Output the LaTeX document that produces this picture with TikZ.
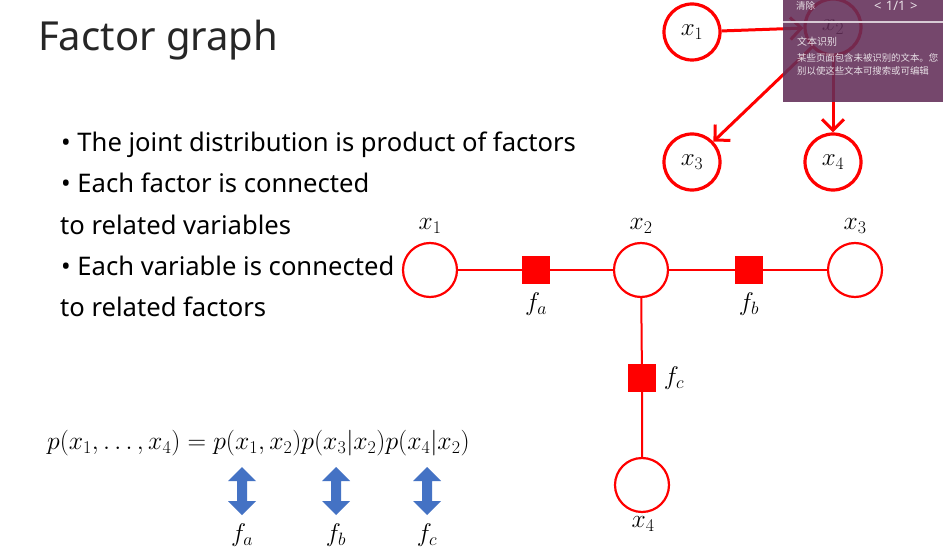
\RequirePackage{fix-cm}
\documentclass[tikz,border=0pt]{standalone}
\usepackage{fontspec}
\setmainfont{Noto Sans}
\newfontfamily\cjkfont{Noto Sans CJK SC}
\usetikzlibrary{arrows.meta}
\definecolor{ovl}{RGB}{98,46,88}
\definecolor{arrowblue}{RGB}{68,114,196}
\tikzset{
  var/.style={circle, draw=red, line width=2.2pt, minimum size=54pt, inner sep=0pt},
  fac/.style={rectangle, fill=red, minimum size=28pt, inner sep=0pt},
  bn/.style={circle, draw=red, line width=3.2pt, fill=white, minimum size=56pt, inner sep=0pt, font=\fontsize{25}{25}\selectfont},
  fedge/.style={red, line width=2pt},
  bnedge/.style={red, line width=3pt, -{Straight Barb[length=11pt, width=22pt, line width=3pt]}},
  mlabel/.style={font=\fontsize{25.5}{25.5}\selectfont, inner sep=0pt},
  bullet/.style={anchor=base west, inner sep=0pt, font=\fontsize{25.6}{25.6}\selectfont},
  ovltext/.style={anchor=base west, inner sep=0pt, text=white!85!ovl},
  darrow/.pic={\fill[arrowblue] (0,-24) -- (14,-10) -- (5,-10) -- (5,10) -- (14,10) -- (0,24) -- (-14,10) -- (-5,10) -- (-5,-10) -- (-14,-10) -- cycle;}
}
\begin{document}
\begin{tikzpicture}[x=1pt, y=-1pt]
\useasboundingbox[fill=white] (0,0) rectangle (943,559);

% title
\node[anchor=base west, inner sep=0pt, font=\fontsize{40}{40}\selectfont, text=black!85] (title) at (38,51) {Factor graph};

% bullets
\node[bullet] (b1) at (61,152) {\textbullet\ The joint distribution is product of factors};
\node[bullet] (b2) at (61,193) {\textbullet\ Each factor is connected};
\node[bullet] (b3) at (60,234) {to related variables};
\node[bullet] (b4) at (61,275) {\textbullet\ Each variable is connected};
\node[bullet] (b5) at (60,316) {to related factors};

% factor graph
\node[var] (v1) at (430,270) {};
\node[var] (v2) at (641,270) {};
\node[var] (v3) at (855,270) {};
\node[var] (v4) at (642,485) {};
\node[fac] (fa) at (536,270) {};
\node[fac] (fb) at (749,270) {};
\node[fac] (fc) at (642,378) {};
\draw[fedge] (v1) -- (fa) -- (v2) -- (fb) -- (v3);
\draw[fedge] (v2) -- (fc) -- (v4);
\node[mlabel] (lv1) at (430,226) {$x_1$};
\node[mlabel] (lv2) at (641,226) {$x_2$};
\node[mlabel] (lv3) at (855,226) {$x_3$};
\node[mlabel] (lv4) at (643,524) {$x_4$};
\node[mlabel] (lfa) at (536,304) {$f_a$};
\node[mlabel] (lfb) at (749,304) {$f_b$};
\node[mlabel] (lfc) at (674,378) {$f_c$};

% equation
\node[anchor=west, inner sep=0pt, font=\fontsize{25.7}{25.7}\selectfont] (eq) at (47,443) {$p(x_1,\ldots,x_4)=p(x_1,x_2)p(x_3|x_2)p(x_4|x_2)$};
\pic (pa) at (242,491) {darrow};
\pic (pb) at (336,491) {darrow};
\pic (pc) at (427,491) {darrow};
\node[mlabel] (efa) at (242,535) {$f_a$};
\node[mlabel] (efb) at (336,535) {$f_b$};
\node[mlabel] (efc) at (427,535) {$f_c$};

% Bayesian network (top right)
\node[bn] (n1) at (692,32) {$x_1$};
\node[bn] (n2) at (833,27) {$x_2$};
\node[bn] (n3) at (692,162) {$x_3$};
\node[bn] (n4) at (833,162) {$x_4$};
\draw[bnedge] (n1) -- (n2);
\draw[bnedge] (n2) -- (n3);
\draw[bnedge] (n2) -- (n4);

% screenshot overlay
\fill[ovl, opacity=0.88] (783,-2) rectangle (946,102);
\draw[white!75!ovl, line width=1.5pt] (783,22) -- (946,22);
\node[ovltext, font=\cjkfont\fontsize{9.5}{9.5}\selectfont] (o1) at (796,10) {清除};
\node[ovltext, font=\fontsize{13}{13}\selectfont] (o2) at (874,11) {<\,\,1/1\,\,>};
\node[ovltext, font=\cjkfont\fontsize{10}{10}\selectfont] (o3) at (797,46) {文本识别};
\node[ovltext, font=\cjkfont\fontsize{9.4}{9.4}\selectfont] (o4) at (797,62) {某些页面包含未被识别的文本。您};
\node[ovltext, font=\cjkfont\fontsize{9.4}{9.4}\selectfont] (o5) at (797,75) {别以使这些文本可搜索或可编辑};
\end{tikzpicture}
\end{document}
